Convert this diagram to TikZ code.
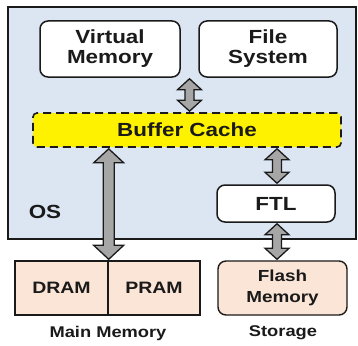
\documentclass[tikz,border=0pt]{standalone}
\usepackage{fontspec}
\setmainfont[FakeStretch=1.18]{Liberation Sans}
\usetikzlibrary{calc}
\definecolor{osfill}{HTML}{DCE6F2}
\definecolor{peach}{HTML}{FBE5D6}
\definecolor{arrgray}{HTML}{A6A6A6}
\definecolor{ink}{HTML}{1A1A1A}
\tikzset{
  osbox/.style={draw=ink, line width=1.6pt, fill=osfill, inner sep=0pt},
  wbox/.style={draw=ink, line width=1.5pt, fill=white, rounded corners=8pt, align=center, inner sep=0pt, text=ink, font=\bfseries\fontsize{19}{20}\selectfont},
  cachebox/.style={draw=ink, line width=1.6pt, fill=yellow, dash pattern=on 8pt off 5pt, rounded corners=4pt, inner sep=0pt, text=ink, font=\bfseries\fontsize{19}{20}\selectfont},
  membox/.style={draw=ink, line width=1.4pt, fill=peach, inner sep=0pt, text=ink, font=\bfseries\fontsize{16.5}{18}\selectfont},
  flashbox/.style={membox, rounded corners=8pt, align=center, font=\bfseries\fontsize{16}{21}\selectfont},
  lbl/.style={inner sep=0pt, text=ink, font=\bfseries\fontsize{15.5}{18}\selectfont},
  blockarrow/.style={draw=ink, fill=arrgray, line width=1.3pt, line join=miter}
}
\newcommand\dblarrow[5]{%
  \filldraw[blockarrow] let \p1=(#1), \p2=(#2) in
   (\x1,\y1-1pt) -- (\x1+#4,\y1-1pt-#5) -- (\x1+#3,\y1-1pt-#5) -- (\x1+#3,\y2+1pt+#5)
   -- (\x1+#4,\y2+1pt+#5) -- (\x1,\y2+1pt) -- (\x1-#4,\y2+1pt+#5) -- (\x1-#3,\y2+1pt+#5)
   -- (\x1-#3,\y1-1pt-#5) -- (\x1-#4,\y1-1pt-#5) -- cycle;}
\begin{document}
\begin{tikzpicture}[x=1pt,y=-1pt]
\useasboundingbox[fill=white] (0,0) rectangle (358,345);
\node[osbox, minimum width=348pt, minimum height=232pt] (os) at (182,123) {};
\node[lbl, font=\bfseries\fontsize{19}{20}\selectfont] (oslbl) at (45,212) {OS};
\node[wbox, minimum width=140pt, minimum height=56pt] (vm) at (110,49) {Virtual\\Memory};
\node[wbox, minimum width=138pt, minimum height=56pt] (fs) at (268,49) {File\\System};
\node[cachebox, minimum width=308pt, minimum height=34pt] (bc) at (187,130) {Buffer Cache};
\node[wbox, minimum width=118pt, minimum height=37pt] (ftl) at (276,203.5) {FTL};
\node[membox, minimum width=93pt, minimum height=54pt] (dram) at (61.5,288) {DRAM};
\node[membox, minimum width=92pt, minimum height=54pt] (pram) at (154,288) {PRAM};
\node[flashbox, minimum width=129pt, minimum height=54pt] (flash) at (282.5,288) {Flash\\Memory};
\node[lbl] (mainmem) at (108,333) {Main Memory};
\node[lbl] (storage) at (283,333) {Storage};
\coordinate (a1) at ($(vm.south east)!0.5!(fs.south west)$);
\coordinate (a2) at (277,0);
\dblarrow{a1}{a1 |- bc.north}{4.5pt}{12pt}{11pt}
\dblarrow{bc.south -| dram.east}{dram.north east}{5.5pt}{15pt}{14pt}
\dblarrow{a2 |- bc.south}{a2 |- ftl.north}{4.5pt}{12pt}{11pt}
\dblarrow{a2 |- ftl.south}{a2 |- flash.north}{4.5pt}{12pt}{11pt}
\end{tikzpicture}
\end{document}
